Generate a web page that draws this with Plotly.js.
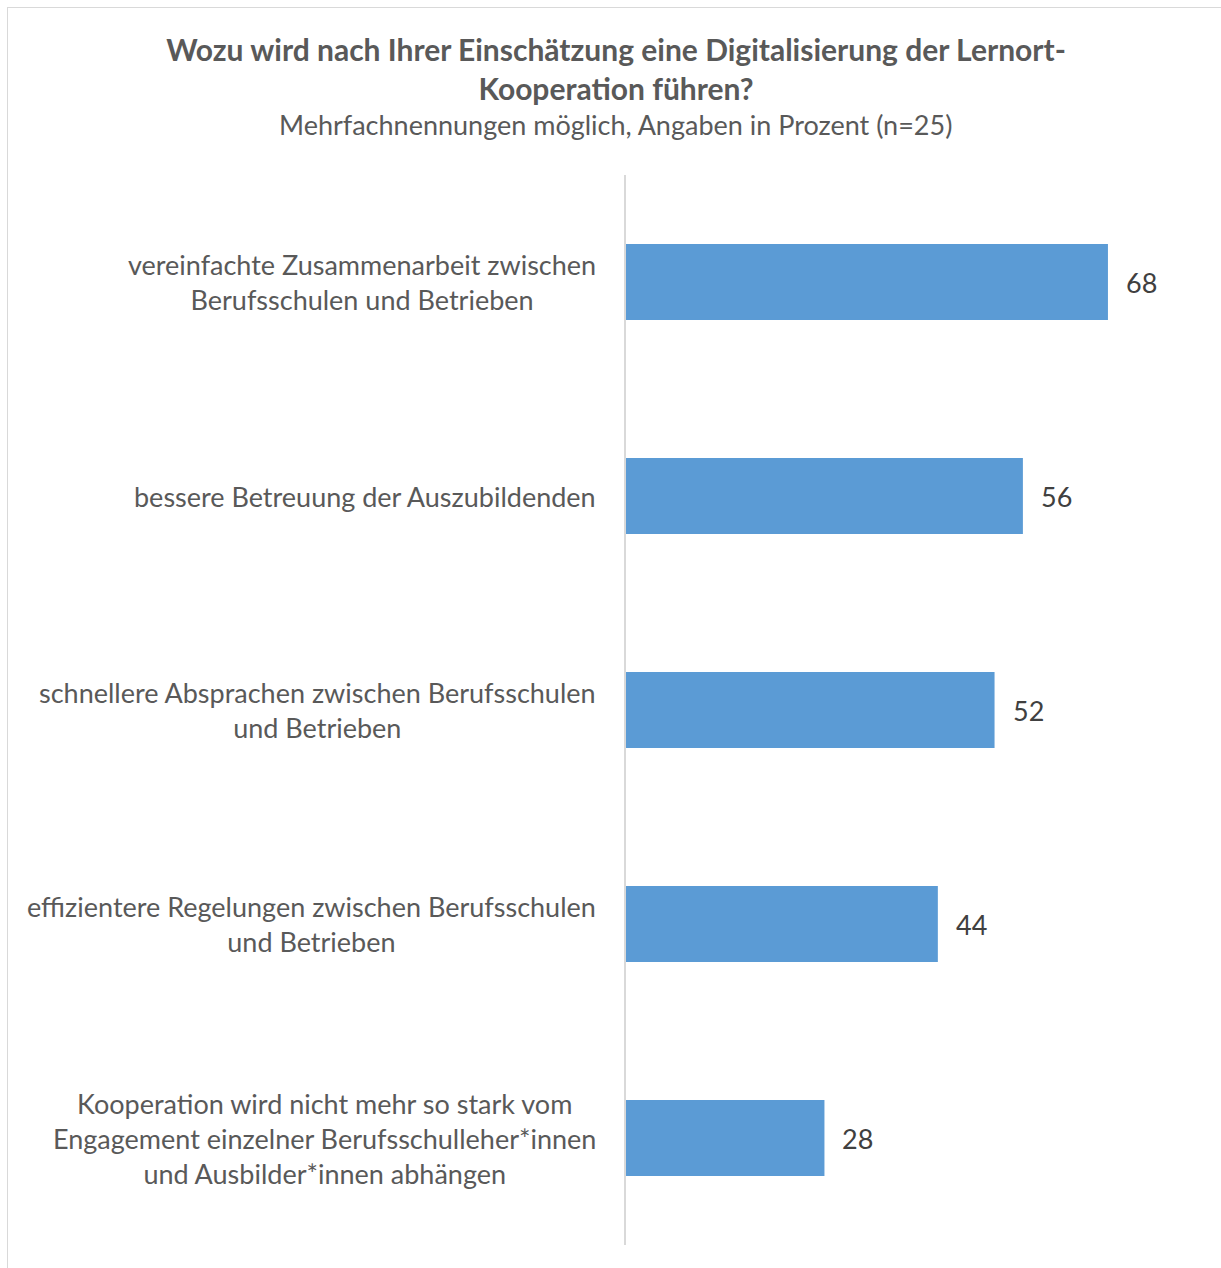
<!DOCTYPE html>
<html>
<head>
<meta charset="utf-8">
<script src="https://cdn.plot.ly/plotly-3.0.1.min.js"></script>
<style>
  html, body { margin: 0; padding: 0; background: #fff; }
  #wrap { position: relative; width: 1221px; height: 1268px; overflow: hidden; }
  #frame { position: absolute; left: 7px; top: 7px; width: 1230px; height: 1280px; border: 1.5px solid #d9d9d9; box-sizing: border-box; pointer-events: none; }
  #chart { position: absolute; left: 0; top: 0; width: 1221px; height: 1268px; }
</style>
</head>
<body>
<div id="wrap">
  <div id="chart"></div>
  <div id="frame"></div>
</div>
<script>
const categories = [
  "vereinfachte Zusammenarbeit zwischen<br>Berufsschulen und Betrieben",
  "bessere Betreuung der Auszubildenden",
  "schnellere Absprachen zwischen Berufsschulen<br>und Betrieben",
  "effizientere Regelungen zwischen Berufsschulen<br>und Betrieben",
  "Kooperation wird nicht mehr so stark vom<br>Engagement einzelner Berufsschulleher*innen<br>und Ausbilder*innen abhängen"
];
const values = [68, 56, 52, 44, 28];
const titleText = "<b>Wozu wird nach Ihrer Einschätzung eine Digitalisierung der Lernort-<br>Kooperation führen?</b>";
const subtitleText = "Mehrfachnennungen möglich, Angaben in Prozent (n=25)";

const FONT = "Lato, 'Open Sans', sans-serif";
const W = 1221, H = 1268;
const plotLeft = 626, plotTop = 175, plotBottom = 1245, plotRight = 1193;

const labelAnns = categories.map((c, i) => ({
  xref: 'paper', yref: 'y', x: 0, y: c, xanchor: 'right', yanchor: 'middle',
  xshift: -28, text: c, showarrow: false, align: 'center',
  font: {family: FONT, size: 27, color: '#595959'}
}));
const valueAnns = categories.map((c, i) => ({
  xref: 'x', yref: 'y', x: values[i], y: c, xanchor: 'left', yanchor: 'middle',
  xshift: 16, text: String(values[i]), showarrow: false,
  font: {family: FONT, size: 27, color: '#404040'}
}));

const data = [{
  type: 'bar', orientation: 'h',
  x: values, y: categories,
  marker: {color: '#5b9bd5', line: {width: 0}},
  hoverinfo: 'none'
}];

const layout = {
  width: W, height: H,
  paper_bgcolor: '#ffffff', plot_bgcolor: '#ffffff',
  margin: {l: plotLeft, r: W - plotRight, t: plotTop, b: H - plotBottom, pad: 0},
  showlegend: false,
  bargap: 0.645,
  title: {
    text: titleText, x: 616 / W, xanchor: 'center', y: 1 - 61 / H, yanchor: 'middle',
    font: {family: FONT, size: 30, color: '#595959'}
  },
  xaxis: {
    range: [0, 80], showgrid: false, zeroline: false, showline: false,
    showticklabels: false, ticks: ''
  },
  yaxis: {
    autorange: 'reversed', showgrid: false, zeroline: false,
    showline: true, linecolor: '#d9d9d9', linewidth: 2,
    showticklabels: false, ticks: ''
  },
  annotations: [
    {xref: 'paper', yref: 'paper', x: (615 - plotLeft) / (plotRight - plotLeft), y: 1, yshift: 175 - 124,
     xanchor: 'center', yanchor: 'middle', showarrow: false, text: subtitleText,
     font: {family: FONT, size: 27, color: '#595959'}}
  ].concat(labelAnns, valueAnns)
};

Plotly.newPlot('chart', data, layout, {displayModeBar: false, staticPlot: true});
</script>
</body>
</html>
